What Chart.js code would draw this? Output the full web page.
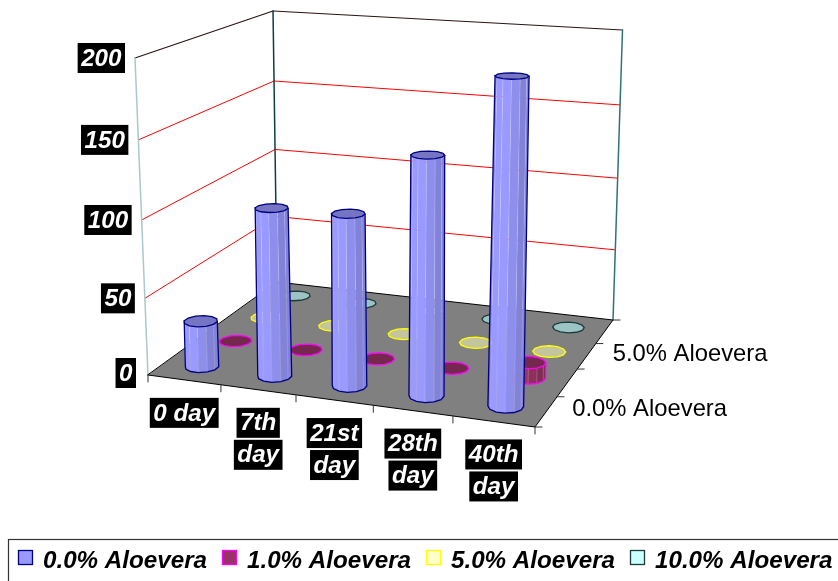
<!DOCTYPE html>
<html><head><meta charset="utf-8">
<style>html,body{margin:0;padding:0;background:#fff}canvas{display:block}</style>
<script src="https://cdn.jsdelivr.net/npm/chart.js@4"></script>
</head><body><canvas id="c" width="838" height="581"></canvas>
<script>
const categories = ["0 day", "7th day", "21st day", "28th day", "40th day"];
const seriesNames = ["0.0% Aloevera", "1.0% Aloevera", "5.0% Aloevera", "10.0% Aloevera"];
const aloe0 = [30, 108, 109, 149, 199];
const aloe1 = [0, 0, 0, 0, 10];
const aloe5 = [0, 0, 0, 0, 0];
const aloe10 = [0, 0, 0, 0, 0];
const yTicks = [0, 50, 100, 150, 200];
const fills = ["#9999FF", "#993366", "#FFFFCC", "#CCFFFF"];
const borders = ["#000080", "#FF00FF", "#FFFF00", "#1c3c3c"];

// camera of the 3-D view: screen corners of the floor and ceiling of the box
const FLOOR = [[148,375],[535,427],[613,320],[277,282]];
const TOP = [[135,58],[542,85],[622.5,30],[273,11]];
function quadMap(q){
  const [p0,p1,p2,p3]=q;
  const dx1=p1[0]-p2[0],dx2=p3[0]-p2[0],sx=p0[0]-p1[0]+p2[0]-p3[0];
  const dy1=p1[1]-p2[1],dy2=p3[1]-p2[1],sy=p0[1]-p1[1]+p2[1]-p3[1];
  const den=dx1*dy2-dx2*dy1;
  const g=(sx*dy2-dx2*sy)/den,h=(dx1*sy-sx*dy1)/den;
  const a=p1[0]-p0[0]+g*p1[0],b=p3[0]-p0[0]+h*p3[0],c=p0[0];
  const d=p1[1]-p0[1]+g*p1[1],e=p3[1]-p0[1]+h*p3[1],f=p0[1];
  return (u,v)=>{const w=g*u+h*v+1;return [(a*u+b*v+c)/w,(d*u+e*v+f)/w];};
}
const floorMap=quadMap(FLOOR), topMap=quadMap(TOP);
function project(u,v,h){
  const f=floorMap(u,v),t=topMap(u,v);
  const k=h/(1+0.045*(1-h));
  return [f[0]+(t[0]-f[0])*k,f[1]+(t[1]-f[1])*k];
}
function shade(hex,fac){
  const n=parseInt(hex.slice(1),16);
  return `rgb(${((n>>16)&255)*fac|0},${((n>>8)&255)*fac|0},${(n&255)*fac|0})`;
}
function poly(ctx,pts,close){
  ctx.beginPath();pts.forEach((p,i)=>i?ctx.lineTo(p[0],p[1]):ctx.moveTo(p[0],p[1]));
  if(close)ctx.closePath();
}
function line(ctx,a,b,col,lw){ctx.strokeStyle=col;ctx.lineWidth=lw;poly(ctx,[a,b]);ctx.stroke();}

const RU=0.0425, RV=0.055, SIDES=12;
function cylinder(ctx,u,v,h,fill,border){
  const bot=[],top=[];
  const shrink=1-0.1*h;
  for(let i=0;i<SIDES;i++){
    const a=(i+0.5)/SIDES*Math.PI*2;
    const c=Math.cos(a),s=Math.sin(a);
    bot.push(project(u+RU*c,v+RV*s,0));
    top.push(project(u+0.003*h+RU*shrink*c,v+RV*shrink*s,h));
  }
  if(h>0){
    const xs=bot.concat(top).map(p=>p[0]);
    const xmin=Math.min(...xs),xmax=Math.max(...xs);
    const vis=[];
    for(let i=0;i<SIDES;i++){
      const j=(i+1)%SIDES,q=[bot[i],bot[j],top[j],top[i]];
      let ar=0;q.forEach((p,k)=>{const r=q[(k+1)%4];ar+=p[0]*r[1]-r[0]*p[1];});
      vis[i]=ar<0;
    }
    let s=0;for(let i=0;i<SIDES;i++)if(vis[i]&&!vis[(i+SIDES-1)%SIDES])s=i;
    const order=[];for(let i=0;i<SIDES;i++){const f=(s+i)%SIDES;if(!vis[f])break;order.push(f);}
    order.forEach(i=>{
      const j=(i+1)%SIDES;
      const t=((bot[i][0]+bot[j][0])/2-xmin)/(xmax-xmin);
      const fac=t<0.09?0.86:t<0.4?1:t<0.72?0.93:0.85;
      ctx.fillStyle=shade(fill,fac);
      poly(ctx,[bot[i],bot[j],top[j],top[i]],true);ctx.fill();
    });
    order.slice(1).forEach(i=>line(ctx,bot[i],top[i],"rgba(255,255,255,0.22)",0.8));
    const out=[top[order[0]],bot[order[0]]];
    order.forEach(i=>out.push(bot[(i+1)%SIDES]));
    out.push(top[(order[order.length-1]+1)%SIDES]);
    ctx.strokeStyle=border;ctx.lineWidth=1.3;poly(ctx,out);ctx.stroke();
  }
  ctx.fillStyle=shade(fill,0.77);poly(ctx,top,true);ctx.fill();
  ctx.strokeStyle=border;ctx.lineWidth=1.3;poly(ctx,top,true);ctx.stroke();
}
function blackLabel(ctx,text,cx,cy,w,h){
  ctx.fillStyle="#000";ctx.fillRect(cx-w/2,cy-h/2,w,h);
  ctx.fillStyle="#fff";ctx.textAlign="center";ctx.textBaseline="middle";
  ctx.fillText(text,cx,cy+1);
}
const box3d={
  id:"box3d",
  beforeDatasetsDraw(chart){
    const ctx=chart.ctx,{x:xs,y:ys,z:zs}=chart.scales;
    const H=val=>(ys.bottom-ys.getPixelForValue(val))/ys.height;
    const U=px=>(px-xs.left)/xs.width;
    const V=i=>(zs.getPixelForValue(i)-zs.left)/zs.width;
    ctx.save();ctx.lineCap="round";
    // walls: gridlines from the y scale
    ys.ticks.forEach(t=>{
      const h=H(t.value);
      if(t.value===0)return;
      const col=t.value===ys.max?"#2a1414":"#FF0000",lw=t.value===ys.max?1.2:1;
      line(ctx,project(0,0,h),project(0,1,h),col,lw);
      line(ctx,project(0,1,h),project(1,1,h),col,lw);
    });
    line(ctx,project(0,0,0),project(0,0,1),"#a9c9c9",1.5);
    line(ctx,project(0,1,0),project(0,1,1),"#0b3f3f",1.5);
    line(ctx,project(1,1,0),project(1,1,1),"#2f7272",1.5);
    // floor
    ctx.fillStyle="#808080";
    const fl=[project(0,0,0),project(1,0,0),project(1,1,0),project(0,1,0)];
    poly(ctx,fl,true);ctx.fill();
    ctx.strokeStyle="#000";ctx.lineWidth=1;poly(ctx,fl,true);ctx.stroke();
    // floor ticks
    for(let i=0;i<=categories.length;i++){
      const p=project(i/categories.length,0,0);
      line(ctx,p,[p[0],p[1]+7],"#333",1);
    }
    for(let i=0;i<=seriesNames.length;i++){
      const p=project(1,i/seriesNames.length,0);
      line(ctx,p,[p[0]+7,p[1]],"#333",1);
    }
    // cylinders, back row first
    for(let d=chart.data.datasets.length-1;d>=0;d--){
      const ds=chart.data.datasets[d],meta=chart.getDatasetMeta(d);
      meta.data.forEach(el=>{
        cylinder(ctx,U(el.x),V(d),(ys.bottom-el.y)/ys.height,ds.backgroundColor,ds.borderColor);
      });
    }
    // y tick labels
    ctx.font="italic bold 24.2px 'Liberation Sans'";
    ys.ticks.forEach(t=>{
      const p=project(0,0,H(t.value));
      const s=String(t.value);
      const w=ctx.measureText(s).width+7;
      const z=t.value===0;
      blackLabel(ctx,s,p[0]-(z?12:10)-w/2,p[1]-(z?2:0),w,30);
    });
    // category labels
    categories.forEach((c,i)=>{
      const p=project(U(xs.getPixelForValue(i)),0,0);
      const lines=c.length>5?c.split(" "):[c];
      lines.forEach((l,k)=>{
        blackLabel(ctx,l,p[0],p[1]+33+k*32,ctx.measureText(l).width+7,30);
      });
    });
    // depth labels: every other series
    ctx.font="23.8px 'Liberation Sans'";ctx.fillStyle="#000";ctx.textAlign="left";ctx.textBaseline="middle";
    seriesNames.forEach((n,i)=>{
      if(i%2)return;
      const p=project(1,V(i),0);
      ctx.fillText(n,p[0]+26,p[1]-2);
    });
    ctx.restore();
    return false;
  },
  afterDraw(chart){
    const ctx=chart.ctx;
    ctx.save();
    ctx.strokeStyle="#333";ctx.lineWidth=1.2;ctx.strokeRect(8.5,539.5,900,100);
    ctx.font="italic bold 24.2px 'Liberation Sans'";ctx.textAlign="left";ctx.textBaseline="middle";
    let x=18;
    chart.data.datasets.forEach(ds=>{
      ctx.fillStyle=ds.backgroundColor;ctx.fillRect(x+.5,550.5,14,14);
      ctx.strokeStyle=ds.borderColor;ctx.lineWidth=1.3;ctx.strokeRect(x+.5,550.5,14,14);
      ctx.fillStyle="#000";ctx.fillText(ds.label,x+25,561);
      x+=204;
    });
    ctx.restore();
  }
};
const values=[aloe0,aloe1,aloe5,aloe10];
new Chart(document.getElementById("c"),{
  type:"bar",
  data:{labels:categories,datasets:seriesNames.map((n,i)=>({label:n,data:values[i],backgroundColor:fills[i],borderColor:borders[i],grouped:false}))},
  options:{
    responsive:false,animation:false,devicePixelRatio:1,
    plugins:{legend:{display:false},tooltip:{enabled:false}},
    scales:{
      x:{display:false,offset:true},
      y:{display:false,min:0,max:200,afterBuildTicks(s){s.ticks=yTicks.map(value=>({value}));}},
      z:{type:"category",axis:"x",position:"bottom",display:false,labels:seriesNames,offset:true}
    }
  },
  plugins:[box3d]
});
</script></body></html>
